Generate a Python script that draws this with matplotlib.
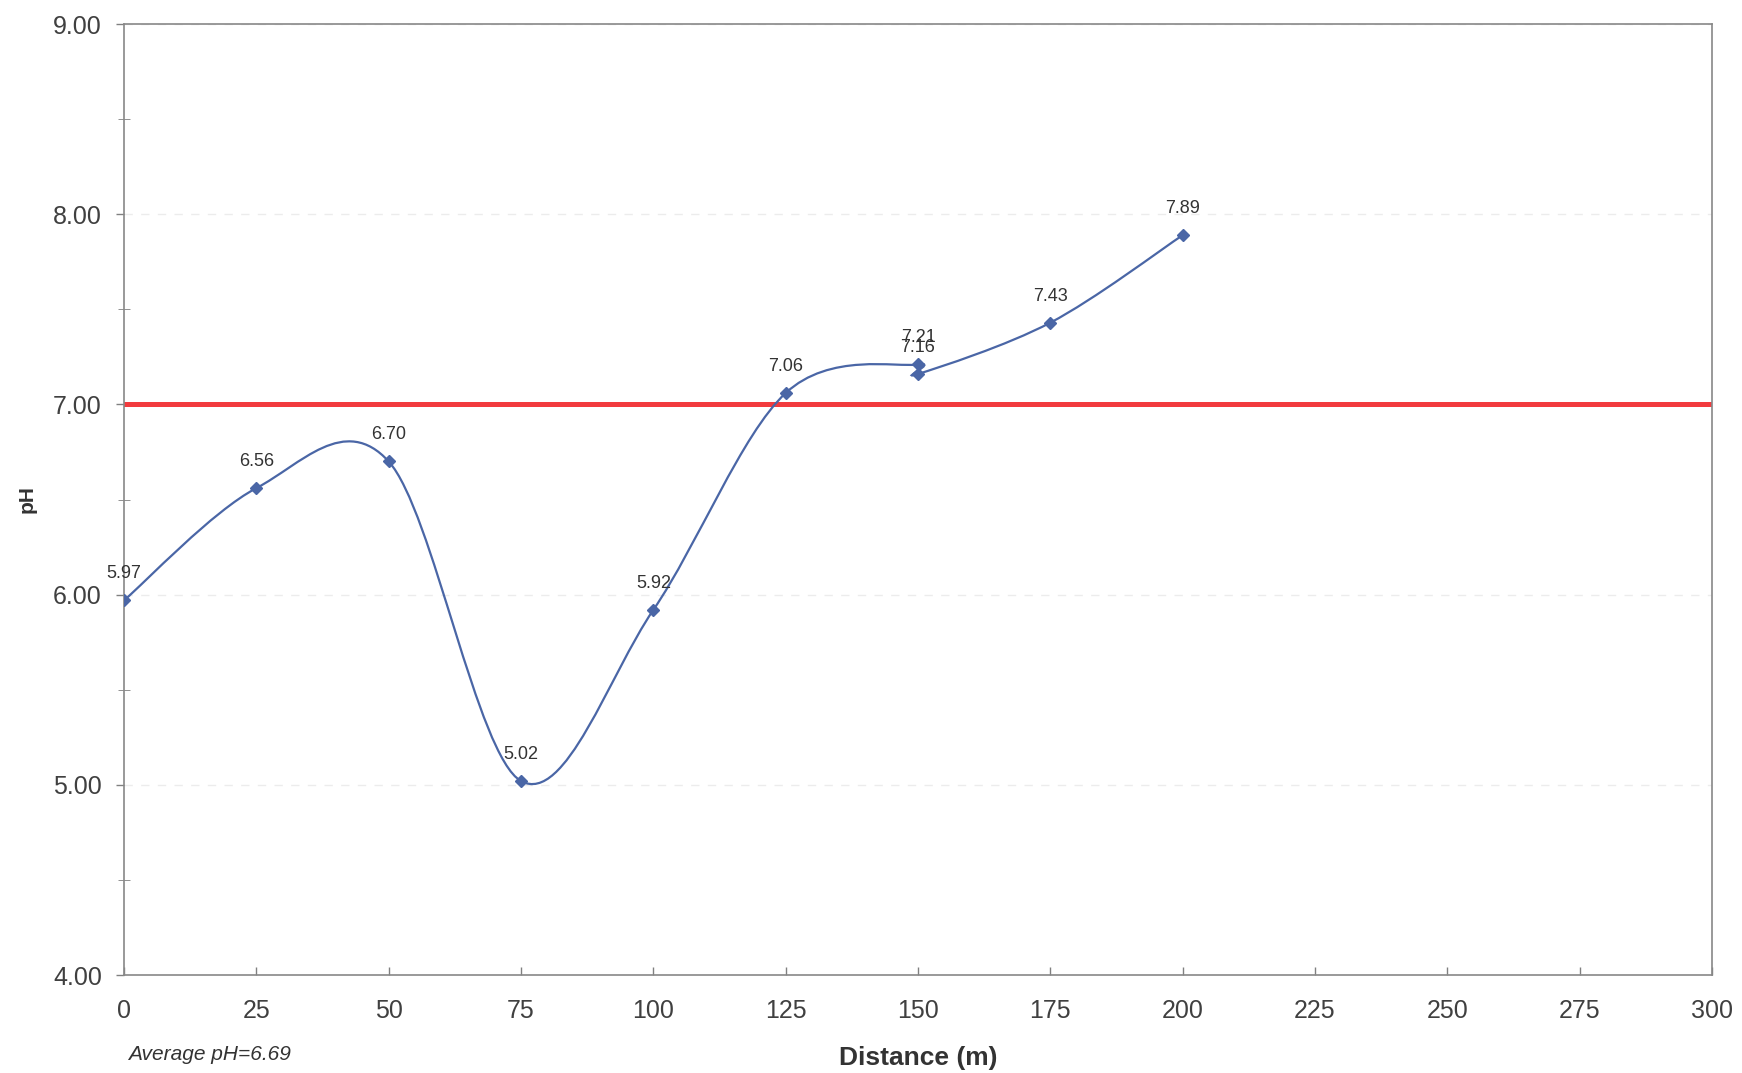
"""
pH along the transect, Excel-style smoothed line with a pH 7 reference line
"""
import numpy as np
import matplotlib.pyplot as plt
from matplotlib.path import Path
from matplotlib.patches import PathPatch

plt.rcParams['font.family'] = ['Liberation Sans', 'DejaVu Sans']

# Data
distance = [0, 25, 50, 75, 100, 125, 150, 150, 175, 200]
ph = [5.97, 6.56, 6.70, 5.02, 5.92, 7.06, 7.21, 7.16, 7.43, 7.89]
ph_labels = ['5.97', '6.56', '6.70', '5.02', '5.92', '7.06', '7.21', '7.16', '7.43', '7.89']
neutral_ph = 7.0
average_ph = 6.69

x_ticks = list(range(0, 301, 25))
y_ticks = [4.0, 5.0, 6.0, 7.0, 8.0, 9.0]

line_color = '#4a66a6'
text_color = '#404040'

fig = plt.figure(figsize=(17.42, 10.73), dpi=100)
ax = fig.add_axes([0.0712, 0.0913, 0.9116, 0.8863])

# Smoothed line: Catmull-Rom style Bezier segments like Excel's smoothing
pts = np.column_stack([distance, ph]).astype(float)
ext = np.vstack([pts[0], pts, pts[-1]])
verts = [tuple(pts[0])]
codes = [Path.MOVETO]
for i in range(len(pts) - 1):
    p0, p1, p2, p3 = ext[i], ext[i + 1], ext[i + 2], ext[i + 3]
    c1 = p1 + (p2 - p0) / 6.0
    c2 = p2 - (p3 - p1) / 6.0
    verts += [tuple(c1), tuple(c2), tuple(p2)]
    codes += [Path.CURVE4] * 3
ax.add_patch(PathPatch(Path(verts, codes), facecolor='none', edgecolor=line_color,
                       linewidth=1.6, zorder=3))
ax.plot(distance, ph, linestyle='none', marker='D', markersize=6,
        color=line_color, zorder=4)

# value labels (7.21 and 7.16 overlap in the original too)
for xv, yv, lab in zip(distance, ph, ph_labels):
    ax.annotate(lab, (xv, yv), xytext=(0, 13), textcoords='offset points',
                ha='center', va='bottom', fontsize=13, color='#333333', zorder=5)

# Neutral pH reference line
ax.axhline(neutral_ph, color='#f23b3e', linewidth=3.6, zorder=2)

ax.set_xlim(0, 300)
ax.set_ylim(4, 9)
ax.set_xticks(x_ticks)
ax.set_yticks(y_ticks)
ax.set_yticks(np.arange(4.5, 9.0, 1.0), minor=True)
ax.set_yticklabels([f'{v:.2f}' for v in y_ticks])
ax.tick_params(axis='both', labelsize=18, colors='#808080', labelcolor=text_color,
               length=6, width=1)
ax.tick_params(axis='y', direction='out', pad=10)
ax.tick_params(axis='y', which='minor', direction='inout', length=8, colors='#808080')
ax.tick_params(axis='x', direction='in', pad=17)

ax.grid(axis='y', which='major', color='#ececec', linestyle=(0, (6, 6)), linewidth=1)
ax.set_axisbelow(True)
for s in ax.spines.values():
    s.set_color('#888888')
    s.set_linewidth(1.2)

ax.set_xlabel('Distance (m)', fontsize=19, fontweight='bold', color='#333333', labelpad=17)
ax.set_ylabel('pH', fontsize=15, fontweight='bold', color='#333333', labelpad=12)

fig.text(0.0735, 0.0168, f'Average pH={average_ph:.2f}', fontsize=15, style='italic',
         color='#333333', va='center')

fig.savefig('out.png', dpi=100, facecolor='white')
